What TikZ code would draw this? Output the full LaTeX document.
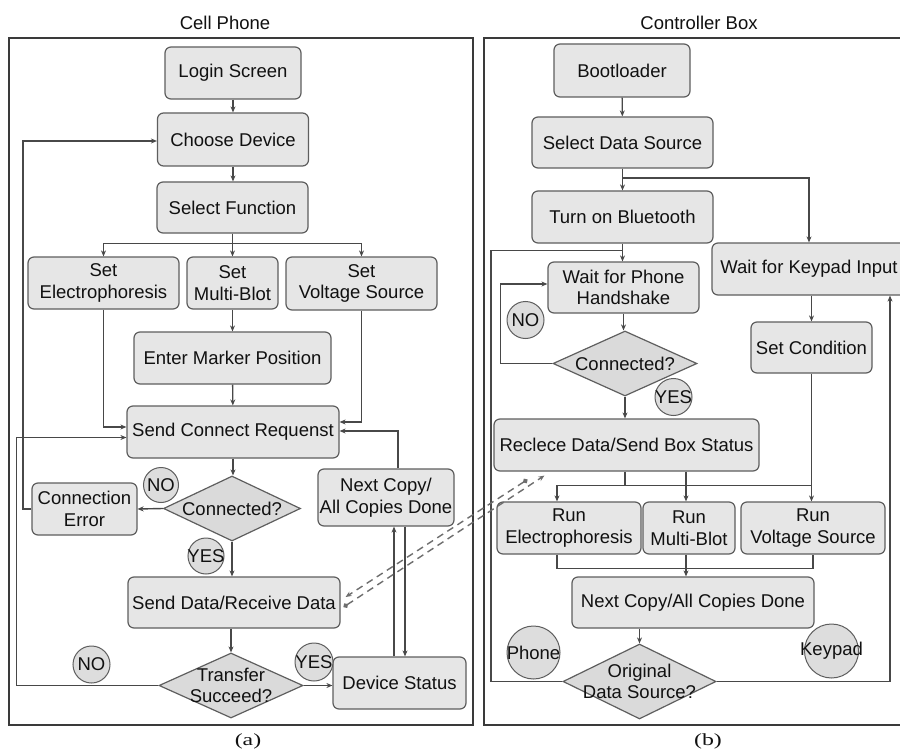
\documentclass[tikz,border=0pt]{standalone}
\usepackage{fontspec}
\setmainfont{Liberation Sans}
\newfontfamily\capfont{Liberation Serif}
\usetikzlibrary{shapes.geometric,arrows.meta,calc}
\definecolor{boxfill}{HTML}{E6E6E6}
\definecolor{diafill}{HTML}{DADADA}
\definecolor{circfill}{HTML}{DDDDDD}
\definecolor{boxline}{HTML}{5E5E5E}
\definecolor{lineC}{HTML}{484848}
\definecolor{dashC}{HTML}{6E6E6E}
\definecolor{frameC}{HTML}{3A3A3A}
\definecolor{txt}{HTML}{111111}
\begin{document}
\begin{tikzpicture}[x=1pt,y=-1pt,
 font=\fontsize{18.5}{21.5}\selectfont,
 box/.style={draw=boxline, line width=1.2pt, fill=boxfill, rounded corners=6pt, align=center, inner sep=0pt, text=txt},
 dia/.style={draw=boxline, line width=1.2pt, fill=diafill, shape=diamond, inner sep=0pt},
 lbl/.style={align=center, inner sep=0pt, text=txt},
 caplbl/.style={inner sep=0pt, text=txt, font=\capfont\fontsize{17}{20}\selectfont, xscale=1.4},
 circ/.style={circle, draw=boxline, line width=1pt, fill=circfill, inner sep=0pt},
 arr/.style={draw=lineC, line width=1.4pt, -{Stealth[length=6pt,width=5pt]}},
 ln/.style={draw=lineC, line width=1.4pt},
 dsh/.style={draw=dashC, line width=1.4pt, dash pattern=on 7pt off 5pt},
 frame/.style={draw=frameC, line width=2pt}
]
\useasboundingbox (0,0) rectangle (900,749);
\fill[white] (0,0) rectangle (900,749);

% frames and titles
\draw[frame] (9,38) rectangle (473,725);
\draw[frame] (484,38) rectangle (903,725);
\node[lbl] (t1) at (225,23) {Cell Phone};
\node[lbl] (t2) at (699,23) {Controller Box};
\node[caplbl] (ca) at (248,741) {(a)};
\node[caplbl] (cb) at (708,741) {(b)};

% ---------- left panel ----------
\node[box, minimum width=136, minimum height=52] (login) at (233,73) {Login Screen};
\node[box, minimum width=151, minimum height=53] (choose) at (233,139.5) {Choose Device};
\node[box, minimum width=151, minimum height=51] (select) at (232.5,207.5) {Select Function};
\node[box, minimum width=151, minimum height=52] (setE) at (103.5,283) {Set\\Electrophoresis};
\node[box, minimum width=91, minimum height=52] (setM) at (232.5,283) {Set\\Multi-Blot};
\node[box, minimum width=151, minimum height=53] (setV) at (361.5,283.5) {Set\\Voltage Source};
\node[box, minimum width=197, minimum height=52] (marker) at (232.5,358) {Enter Marker Position};
\node[box, minimum width=212, minimum height=52] (sendc) at (233,432) {Send Connect Requenst};
\node[dia, minimum width=137, minimum height=65] (conn1) at (232,508.5) {};
\node[lbl] (conn1t) at (conn1) {Connected?};
\node[box, minimum width=105, minimum height=52] (cerr) at (84.5,509) {Connection\\Error};
\node[box, minimum width=212, minimum height=51] (sendd) at (234,602.5) {Send Data/Receive Data};
\node[dia, minimum width=144, minimum height=65] (trans) at (231,685.5) {};
\node[lbl] (transt) at (trans) {Transfer\\Succeed?};
\node[box, minimum width=133, minimum height=52] (devst) at (399.5,683) {Device Status};
\node[box, minimum width=136, minimum height=57] (nextL) at (386,497.5) {Next Copy/\\All Copies Done};

\draw[arr] (login) -- (choose);
\draw[arr] (choose.south) -- (choose.south |- select.north);
\draw[arr] (select.south) -- (setM.north);
\draw[arr] (select.south) -- ++(0,10) -| (setE.north);
\draw[arr] (select.south) -- ++(0,10) -| (setV.north);
\draw[arr] (setM) -- (marker);
\draw[arr] (marker) -- (sendc);
\draw[arr] (setE.south) |- ($(sendc.west)+(0,-5)$);
\draw[arr] (setV.south) |- ($(sendc.east)+(0,-10)$);
\coordinate (nU) at ($(nextL.north)+(12,0)$);
\draw[arr] (nU) |- ($(sendc.east)+(0,-1)$);
\draw[arr] (sendc.south) -- (sendc.south |- conn1.north);
\draw[arr] (conn1.west) -- (cerr.east);
\draw[arr] (cerr.west) -- ++(-8.5,0) |- ($(choose.west)+(0,1.5)$);
\draw[arr] (conn1.south) -- (conn1.south |- sendd.north);
\draw[arr] (trans.north |- sendd.south) -- (trans.north);
\draw[arr] (trans.west) -- ++(-142,0) |- ($(sendc.west)+(0,5.5)$);
\draw[arr] (trans.east) -- (trans.east -| devst.west);
\coordinate (du) at ($(devst.north)+(-5.5,0)$);
\coordinate (dd) at ($(devst.north)+(5.5,0)$);
\draw[arr] (du) -- (du |- nextL.south);
\draw[arr] (dd |- nextL.south) -- (dd);

% ---------- right panel ----------
\node[box, minimum width=136, minimum height=53] (boot) at (622,70.5) {Bootloader};
\node[box, minimum width=181, minimum height=51] (sds) at (622.5,142.5) {Select Data Source};
\node[box, minimum width=181, minimum height=52] (bt) at (622.5,217) {Turn on Bluetooth};
\node[box, minimum width=194, minimum height=52] (wkey) at (809,269) {Wait for Keypad Input};
\node[box, minimum width=151, minimum height=51] (wph) at (623.5,287.5) {Wait for Phone\\Handshake};
\node[dia, minimum width=144, minimum height=65] (conn2) at (625,363.5) {};
\node[lbl] (conn2t) at (conn2) {Connected?};
\node[box, minimum width=121, minimum height=51] (setc) at (811.5,347.5) {Set Condition};
\node[box, minimum width=265, minimum height=52] (recl) at (626.5,445) {Reclece Data/Send Box Status};
\node[box, minimum width=144, minimum height=52] (runE) at (569,528) {Run\\Electrophoresis};
\node[box, minimum width=92, minimum height=52] (runM) at (689,528) {Run\\Multi-Blot};
\node[box, minimum width=144, minimum height=52] (runV) at (813,528) {Run\\Voltage Source};
\node[box, minimum width=242, minimum height=51] (nextR) at (693,602.5) {Next Copy/All Copies Done};
\node[dia, minimum width=153, minimum height=75] (orig) at (639.5,681.5) {};
\node[lbl] (origt) at (orig) {Original\\Data Source?};

\draw[arr] (boot) -- (sds);
\draw[arr] (sds.south) -- (sds.south |- bt.north);
\draw[arr] (sds.south) -- ++(0,9.5) -| (wkey.north);
\draw[arr] (bt.south) -- (bt.south |- wph.north);
\draw[arr] (wph.south) -- (wph.south |- conn2.north);
\draw[arr] (conn2.west) -- ++(-52,0) |- ($(wph.west)+(0,-3.5)$);
\draw[arr] (conn2.south) -- (conn2.south |- recl.north);
\draw[arr] (setc.north |- wkey.south) -- (setc.north);
\draw[arr] (setc.south) -- (setc.south |- runV.north);
\coordinate (eN) at ($(runE.north)+(-12,0)$);
\coordinate (mN) at ($(runM.north)+(-3,0)$);
\coordinate (jR) at ($(setc.south)+(0,112)$);
\draw[arr] (jR) -| (eN);
\draw[ln] ($(recl.south)+(-1.5,0)$) -- ++(0,14);
\draw[arr] (mN |- recl.south) -- (mN);
\coordinate (eS) at ($(runE.south)+(-12,0)$);
\coordinate (mS) at ($(runM.south)+(-3,0)$);
\draw[ln] (eS) -- ++(0,14) -| (runV.south);
\draw[arr] (mS) -- (mS |- nextR.north);
\draw[arr] (orig.north |- nextR.south) -- (orig.north);
\draw[ln] (orig.west) -- ++(-71.5,0) |- ($(bt.south)+(0,7)$);
\coordinate (kS) at ($(wkey.south)+(81,0)$);
\draw[arr] (orig.east) -| (kS);

% dashed links
\draw[dsh, {Circle[length=5pt]}-{Stealth[length=6pt,width=5pt]}] ($(sendd.east)+(3,4.5)$) -- ($(recl.south west)+(51,4)$);
\draw[dsh, {Circle[length=5pt]}-{Stealth[length=6pt,width=5pt]}] ($(recl.south west)+(34,8)$) -- ($(sendd.east)+(5,-5.5)$);

% circles
\node[circ, minimum size=35] (no1) at (161,485) {};
\node[lbl] at (no1) {NO};
\node[circ, minimum size=36] (yes1) at (206,556) {};
\node[lbl] at (yes1) {YES};
\node[circ, minimum size=37] (no2) at (91.5,664.5) {};
\node[lbl] at (no2) {NO};
\node[circ, minimum size=38] (yes2) at (314,662) {};
\node[lbl] at (yes2) {YES};
\node[circ, minimum size=37] (noR) at (525.5,320) {};
\node[lbl] at (noR) {NO};
\node[circ, minimum size=37] (yesR) at (673.5,397) {};
\node[lbl] at (yesR) {YES};
\node[circ, minimum size=53] (phone) at (533.5,652.5) {};
\node[lbl] at (phone) {Phone};
\node[circ, minimum size=54] (keypad) at (831.5,651) {};
\node[lbl] at (keypad) {Keypad};
\end{tikzpicture}
\end{document}
